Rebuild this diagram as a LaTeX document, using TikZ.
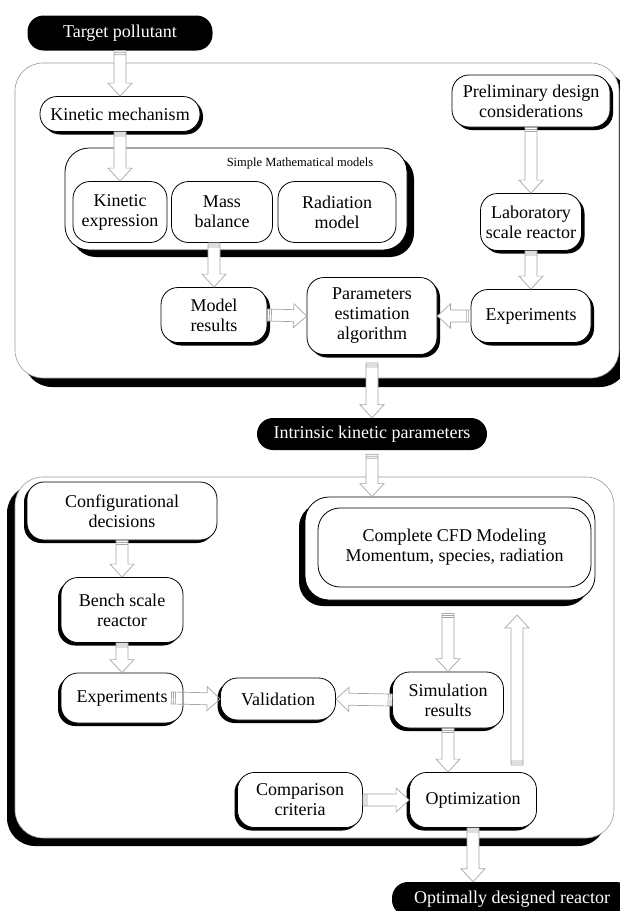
\documentclass[tikz,border=0pt]{standalone}
\usepackage{fontspec}
\setmainfont{Liberation Serif}
\usepackage{tikz}
\usetikzlibrary{calc,shadows,positioning}

\begin{document}
\begin{tikzpicture}[x=1pt,y=1pt,node distance=100pt,
    every node/.style={font=\fontsize{18}{20}\selectfont},
    sR/.style={drop shadow={shadow xshift=#1,shadow yshift=-#1,fill=black,opacity=1}},
    sL/.style={drop shadow={shadow xshift=-#1,shadow yshift=-#1,fill=black,opacity=1}},
    box/.style={draw,fill=white,line width=0.8pt,rounded corners=17pt,align=center,inner sep=1pt},
    dark/.style={fill=black,text=white,rounded corners=16pt,align=center,inner sep=1pt},
    panel/.style={draw=gray!80,fill=white,line width=0.6pt,rounded corners=28pt},
    fat/.style={draw=gray!70,fill=white,line width=0.7pt,
      to path={let \p1=($(\tikztotarget)-(\tikztostart)$),\n1={atan2(\y1,\x1)},\n2={veclen(\x1,\y1)} in
        ($(\tikztostart)+(\n1+90:6pt)$) -- ($(\tikztostart)+(\n1:\n2-13pt)+(\n1+90:6pt)$)
        -- ($(\tikztostart)+(\n1:\n2-13pt)+(\n1+90:12pt)$) -- (\tikztotarget)
        -- ($(\tikztostart)+(\n1:\n2-13pt)+(\n1-90:12pt)$) -- ($(\tikztostart)+(\n1:\n2-13pt)+(\n1-90:6pt)$)
        -- ($(\tikztostart)+(\n1-90:6pt)$) -- cycle
        ($(\tikztostart)+(\n1:2pt)+(\n1+90:6pt)$) -- ($(\tikztostart)+(\n1:2pt)+(\n1-90:6pt)$)
        ($(\tikztostart)+(\n1:4pt)+(\n1+90:6pt)$) -- ($(\tikztostart)+(\n1:4pt)+(\n1-90:6pt)$)}}]
    \useasboundingbox (0,0) rectangle (620,-911);

    \node [panel,sR=9pt,minimum width=604pt,minimum height=315pt] (upper) at (317,-220.5) {};
    \node [panel,sL=8pt,minimum width=599pt,minimum height=361pt] (lower) at (314.5,-657.5) {};

    \node [dark,minimum width=185pt,minimum height=35pt] (tp) at (120,-33) {Target pollutant};
    \node [box,sR=3pt,minimum width=160pt,minimum height=35pt] [below of=tp,node distance=81pt] (km) {Kinetic mechanism};
    \node [box,sR=7pt,rounded corners=24pt,minimum width=342pt,minimum height=102pt] (smm) at (236,-199) {};
    \node [font=\fontsize{12.5}{14}\selectfont] (smmtitle) at (300,-163) {Simple Mathematical models};
    \node [box,minimum width=94pt,minimum height=61pt] (kexp) at (120,-212) {Kinetic\\expression};
    \node [box,minimum width=101pt,minimum height=61pt] [right of=kexp,node distance=102pt] (mass) {Mass\\balance};
    \node [box,minimum width=118pt,minimum height=61pt] [right of=mass,node distance=115pt] (rad) {Radiation\\model};
    \node [box,sR=3pt,minimum width=106pt,minimum height=55pt] (mres) at (214,-315) {Model\\results};
    \node [box,sR=3pt,minimum width=130pt,minimum height=77pt] (param) at (372,-316) {Parameters\\estimation\\algorithm};
    \node [box,sR=3pt,minimum width=158pt,minimum height=52pt] (pre) at (531,-101) {Preliminary design\\considerations};
    \node [box,sR=3pt,minimum width=101pt,minimum height=57pt] [below of=pre,node distance=121pt] (lab) {Laboratory\\scale reactor};
    \node [box,sR=3pt,minimum width=120pt,minimum height=53pt] [below of=lab,node distance=94pt] (expA) {Experiments};
    \node [dark,minimum width=230pt,minimum height=32pt] [below of=param,node distance=118pt] (ikp) {Intrinsic kinetic parameters};

    \node [box,sL=3pt,minimum width=190pt,minimum height=58pt] (conf) at (122,-511) {Configurational\\decisions};
    \node [box,sL=3pt,minimum width=122pt,minimum height=65pt] [below of=conf,node distance=99pt] (bench) {Bench scale\\reactor};
    \node [box,sL=3pt,minimum width=122pt,minimum height=50pt] [below of=bench,node distance=88pt] (expB) {Experiments};
    \node [box,sL=3pt,minimum width=115pt,minimum height=42pt] (val) at (278,-699) {Validation};
    \node [box,sL=6pt,rounded corners=24pt,minimum width=290pt,minimum height=103pt] (cfd) at (450,-548.5) {};
    \node [box,rounded corners=22pt,minimum width=273pt,minimum height=79pt] (cfdin) at (454.5,-547.5) {Complete CFD Modeling\\Momentum, species, radiation};
    \node [box,sL=3pt,minimum width=111pt,minimum height=56pt] (sim) at (448,-700) {Simulation\\results};
    \node [box,sL=3pt,minimum width=125pt,minimum height=55pt] (cmp) at (300,-800) {Comparison\\criteria};
    \node [box,sL=3pt,minimum width=127pt,minimum height=55pt] [right of=cmp,node distance=173pt] (opt) {Optimization};
    \node [dark,minimum width=240pt,minimum height=34pt] (odr) at (512,-899) {Optimally designed reactor};

    \coordinate (mtail) at (mres.north |- mass.south);
    \coordinate (ptail) at ($(param.south)+(0,-8)$);
    \coordinate (itail) at ($(ikp.south)+(0,-4)$);
    \coordinate (itip) at (ikp.south |- cfd.north);
    \coordinate (etail) at ($(expB.east)+(-12,0)$);
    \coordinate (ctail) at ($(cfd.south -| sim.north)+(0,-13)$);
    \coordinate (stip) at (sim.south |- opt.north);
    \coordinate (fbtail) at (517,-765);
    \coordinate (fbtip) at (517,-615);
    \coordinate (otip) at (opt.south |- odr.north);

    \path (tp.south) edge [fat] (km.north)
          (km.south) edge [fat] (kexp.north)
          (mtail) edge [fat] (mres.north)
          (mres.east) edge [fat] (param.west)
          (expA.west) edge [fat] (param.east)
          (pre.south) edge [fat] (lab.north)
          (lab.south) edge [fat] (expA.north)
          (ptail) edge [fat] (ikp.north);
    \path (itail) edge [fat] (itip)
          (conf.south) edge [fat] (bench.north)
          (bench.south) edge [fat] (expB.north)
          (etail) edge [fat,fill=none] (val.west)
          (sim.west) edge [fat] (val.east)
          (ctail) edge [fat] (sim.north)
          (sim.south) edge [fat] (stip)
          (fbtail) edge [fat] (fbtip)
          (cmp.east) edge [fat] (opt.west)
          (opt.south) edge [fat] (otip);
\end{tikzpicture}
\end{document}
